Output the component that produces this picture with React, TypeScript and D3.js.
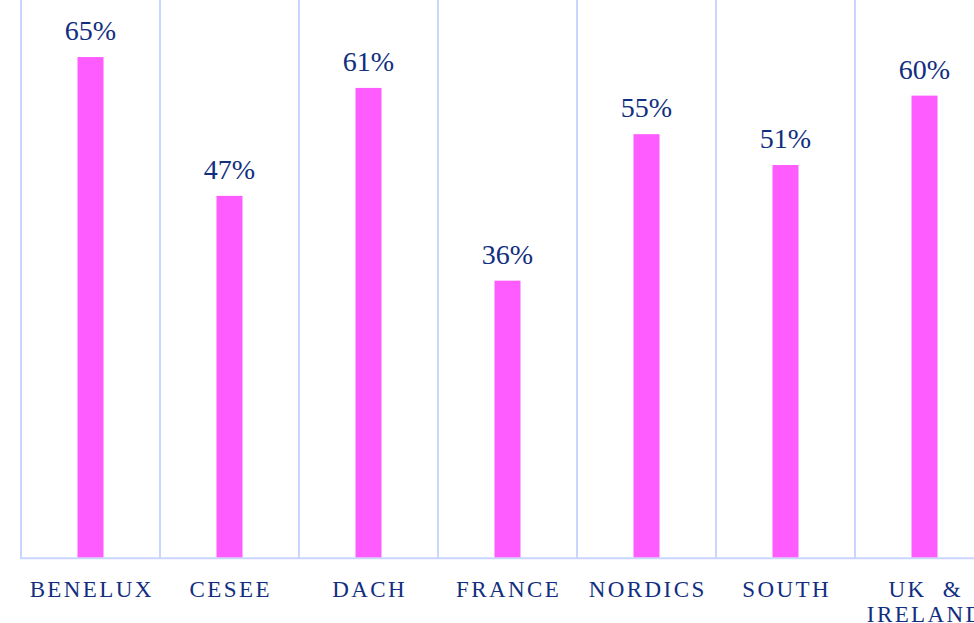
import React from "react";
import * as d3 from "d3";

const categories = ["BENELUX", "CESEE", "DACH", "FRANCE", "NORDICS", "SOUTH", "UK & IRELAND"];
const categoryLines = [["BENELUX"], ["CESEE"], ["DACH"], ["FRANCE"], ["NORDICS"], ["SOUTH"], ["UK  &", "IRELAND"]];
const values = [65, 47, 61, 36, 55, 51, 60];
const valueLabels = ["65%", "47%", "61%", "36%", "55%", "51%", "60%"];

const W = 974;
const H = 623;
const left = 21;
const step = 139;
const baseY = 558.3;

export default function App() {
  const x = d3
    .scaleBand<string>()
    .domain(categories)
    .range([left, left + step * categories.length])
    .padding(0);
  const y = d3.scaleLinear().domain([0, 72.4]).range([baseY, 0]);
  const barW = 26;
  const grid = "#CAD6FF";
  const textColor = "#112E80";
  const pink = "#FF5CFF";
  const font = "'Liberation Serif', 'Times New Roman', serif";

  return (
    <svg
      width={W}
      height={H}
      style={{ position: "absolute", left: 0, top: 0, background: "#fff" }}
      fontFamily={font}
    >
      {categories.map((c) => (
        <line
          key={"g" + c}
          x1={x(c)!}
          x2={x(c)!}
          y1={0}
          y2={baseY}
          stroke={grid}
          strokeWidth={2}
        />
      ))}
      <line x1={left - 1} x2={W} y1={baseY} y2={baseY} stroke={grid} strokeWidth={2} />
      {categories.map((c, i) => {
        const cx = x(c)! + x.bandwidth() / 2;
        return (
          <g key={c}>
            <rect
              x={cx - barW / 2}
              y={y(values[i])}
              width={barW}
              height={baseY - 1 - y(values[i])}
              fill={pink}
            />
            <text
              x={cx}
              y={y(values[i]) - 17}
              textAnchor="middle"
              fontSize={28}
              fill={textColor}
            >
              {valueLabels[i]}
            </text>
            {categoryLines[i].map((ln, j) => (
              <text
                key={j}
                x={cx + 1.2}
                y={597 + j * 25}
                textAnchor="middle"
                fontSize={23}
                letterSpacing={2.4}
                fill={textColor}
                style={{ whiteSpace: "pre" }}
              >
                {ln}
              </text>
            ))}
          </g>
        );
      })}
    </svg>
  );
}
